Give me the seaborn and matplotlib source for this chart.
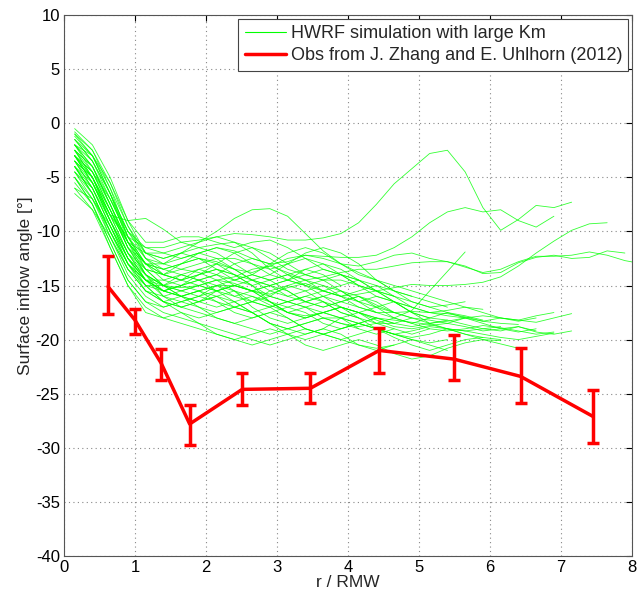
import numpy as np
import pandas as pd
import matplotlib
matplotlib.use("Agg")
import matplotlib.pyplot as plt
import seaborn as sns
from matplotlib.lines import Line2D

# ---------------- data ----------------
# radius grid (r / RMW) shared by the simulated profiles
r_grid = [0.15, 0.40, 0.65, 0.90, 1.15, 1.40, 1.65, 1.90, 2.15, 2.40, 2.65,
          2.90, 3.15, 3.40, 3.65, 3.90, 4.15, 4.40, 4.65, 4.90, 5.15, 5.40,
          5.65, 5.90, 6.15, 6.40, 6.65, 6.90, 7.15, 7.40, 7.65, 7.90, 8.15]

# HWRF simulated surface inflow angle profiles (deg)
sim_curves = [
    [-3.0,-5.0,-8.5,-10.5,-11.5,-11.5,-11.0,-10.8,-10.5,-10.2,-10.3,-10.5,-10.8,-10.8,-10.6,-10.2,-9.2,-7.5,-5.6,-4.2,-2.8,-2.5,-4.5,-7.8,-9.9,-8.9,-7.6,-7.8,-7.3],
    [-2.0,-4.5,-8.0,-11.5,-13.0,-13.5,-13.0,-12.5,-12.8,-13.5,-13.8,-13.2,-12.5,-12.2,-12.3,-12.4,-12.4,-12.2,-11.5,-10.5,-9.2,-8.2,-7.8,-8.2,-8.0,-9.0,-9.6,-8.6],
    [-4.0,-6.5,-10.0,-13.0,-14.5,-15.0,-15.2,-15.0,-14.5,-14.8,-15.5,-15.8,-15.2,-14.8,-15.5,-16.0,-15.8,-15.5,-15.2,-14.9,-15.0,-15.0,-14.9,-14.7,-14.2,-13.2,-12.0,-10.9,-9.9,-9.3,-9.2],
    [-1.5,-3.5,-7.0,-10.0,-11.5,-12.0,-12.5,-12.0,-11.5,-11.8,-12.5,-13.0,-12.8,-12.2,-12.5,-13.0,-13.2,-12.8,-12.2,-12.0,-12.5,-12.8,-13.3,-13.8,-13.5,-12.8,-12.3,-12.3,-12.2,-11.9,-12.2,-12.7,-13.0],
    [-3.5,-5.5,-9.0,-12.0,-13.5,-14.0,-13.5,-13.8,-14.5,-14.2,-13.5,-13.2,-13.8,-14.5,-14.2,-13.8,-13.5,-13.5,-13.2,-12.9,-12.8,-12.8,-13.2,-13.9,-13.8,-12.9,-12.4,-12.2,-12.5,-12.4,-11.8,-12.0],
    [-4.5,-7.0,-10.5,-13.5,-15.5,-16.5,-16.0,-15.5,-16.0,-17.0,-17.5,-17.0,-16.5,-17.0,-18.0,-18.5,-18.8,-18.5,-18.0,-17.3,-15.5,-13.7,-11.9],
    [-2.5,-5.0,-8.5,-11.0,-12.0,-12.0,-11.5,-11.0,-10.0,-8.8,-8.0,-7.9,-8.6,-10.2,-11.8,-13.0,-13.8,-14.5,-15.5,-16.0,-16.5,-17.0],
    [-3.0,-5.5,-8.5,-9.0,-8.8,-9.8,-11.0,-11.5,-11.2,-11.0,-11.5,-12.5,-13.5,-14.0,-14.5,-15.5,-16.5,-17.0,-17.5,-18.0],
    [-3.5,-6.0,-9.5,-12.5,-14.0,-15.0,-15.5,-16.0,-15.5,-15.0,-15.5,-16.5,-17.0,-16.5,-16.0,-16.5,-17.0,-17.5,-17.5,-17.4,-17.5,-17.6,-17.9,-18.3,-18.0,-18.2,-18.4,-18.0,-17.6],
    [-4.0,-6.5,-10.5,-14.0,-16.0,-17.0,-16.5,-16.0,-16.5,-17.5,-18.0,-17.5,-17.0,-17.5,-18.5,-19.0,-18.5,-18.0,-18.5,-18.8,-18.5,-18.2,-18.6,-19.0,-19.2,-18.8,-19.2],
    [-5.0,-7.5,-11.0,-14.5,-16.5,-17.0,-16.5,-17.0,-18.0,-18.5,-18.0,-17.5,-18.0,-19.0,-19.5,-19.0,-18.5,-18.0,-18.2,-18.4,-18.6,-19.0,-19.5,-20.0,-20.4,-20.8],
    [-6.0,-8.0,-11.5,-15.0,-17.5,-18.0,-17.5,-18.5,-19.5,-20.0,-19.5,-19.0,-19.5,-20.5,-21.0,-20.5,-20.0,-20.5,-21.3,-21.8,-21.5,-20.8,-20.3,-20.0,-20.1],
    [-3.0,-5.5,-9.0,-12.5,-14.5,-15.5,-16.0,-16.5,-16.0,-15.5,-16.0,-16.8,-17.5,-17.8,-17.5,-17.0,-17.5,-18.2,-18.8,-19.0,-18.7,-18.5,-18.8,-19.2,-19.0,-18.8,-19.3,-19.5,-19.2],
    [-2.0,-4.0,-7.5,-11.0,-13.0,-13.5,-14.0,-14.5,-14.0,-13.0,-12.5,-13.0,-14.0,-15.0,-15.5,-15.0,-14.5,-15.0,-16.0,-17.0],
    [-1.0,-2.5,-5.5,-9.5,-12.5,-14.0,-14.5,-14.0,-13.5,-14.0,-15.0,-16.0,-16.5,-16.0,-15.5,-16.0,-17.0,-17.5],
    [-4.5,-6.0,-9.5,-13.0,-15.5,-16.5,-17.0,-16.5,-15.5,-15.0,-15.5,-16.5,-17.5,-18.0,-17.5,-17.0,-17.5,-18.5,-19.0,-19.5,-19.0],
    [-2.5,-4.5,-8.0,-11.5,-13.5,-14.0,-13.0,-12.5,-13.0,-14.0,-14.5,-14.0,-13.0,-12.5,-13.0,-14.0,-15.0,-15.5,-16.0,-16.5,-17.0,-17.5,-18.0],
    [-3.0,-5.5,-9.0,-12.0,-14.0,-15.0,-15.5,-15.0,-14.5,-15.5,-17.0,-18.0,-18.5,-18.0,-17.5,-18.0,-19.0,-19.5,-19.0],
    [-5.5,-7.5,-11.0,-14.5,-16.5,-17.5,-18.0,-18.5,-19.0,-19.5,-20.0,-20.5,-20.0,-19.5,-19.0,-19.5,-20.5,-21.0,-20.5,-20.0],
    [-1.5,-3.0,-6.5,-10.0,-12.0,-12.5,-12.0,-11.0,-10.5,-11.0,-12.0,-13.5,-14.5,-15.0,-14.5,-14.0,-14.5,-15.5,-16.5,-17.5,-18.0,-18.2],
    [-3.5,-5.0,-8.5,-12.0,-14.5,-15.5,-15.0,-14.5,-15.0,-16.0,-16.5,-16.0,-15.0,-14.5,-15.0,-16.0,-16.5,-16.0,-16.5,-17.5,-18.5,-19.0,-19.2,-19.0,-18.8],
    [-0.5,-2.0,-5.0,-9.0,-12.0,-13.0,-13.5,-13.0,-12.5,-12.5,-13.0,-13.5,-13.0,-12.0,-11.5,-12.0,-13.0,-14.5,-15.5,-16.0],
    [-4.0,-5.5,-8.5,-12.0,-14.5,-16.0,-16.5,-16.0,-15.0,-14.5,-14.0,-14.5,-15.5,-16.5,-17.0,-16.5,-16.0,-16.5,-17.5],
    [-6.5,-8.0,-10.5,-13.5,-15.5,-16.0,-15.5,-15.0,-15.5,-16.5,-17.5,-18.5,-19.0,-19.5,-19.0,-18.0,-17.5,-18.0],
    [-2.0,-3.5,-6.5,-10.0,-12.5,-13.5,-13.0,-12.0,-11.5,-12.0,-13.0,-14.0,-14.5,-14.0,-13.5,-14.0,-15.0,-16.0,-16.5,-17.0,-17.5,-17.8,-18.0,-18.3,-18.5,-18.6],
    [-3.0,-4.5,-7.5,-11.0,-13.5,-15.0,-16.0,-17.0,-17.5,-17.0,-16.5,-17.0,-18.0,-19.0,-19.5,-20.0,-19.5,-19.0,-19.5,-20.0,-20.3,-20.0],
    [-4.5,-6.5,-10.0,-13.5,-15.0,-15.0,-14.0,-13.5,-14.0,-15.0,-15.5,-15.0,-14.5,-15.0,-16.0,-17.0,-17.5,-17.0,-16.5,-17.0,-17.5,-17.3,-17.0,-17.5,-18.0,-18.2,-17.8,-17.5],
    [-2.5,-4.0,-7.0,-10.5,-13.0,-14.5,-15.0,-14.5,-14.0,-14.5,-15.0,-14.5,-14.0,-14.5,-15.5,-16.0,-15.5,-15.0,-15.5,-16.5,-17.0,-16.8,-16.5],
    [-5.0,-7.0,-10.0,-13.0,-15.0,-16.5,-17.5,-18.0,-17.5,-17.0,-17.5,-18.5,-19.5,-20.0,-19.5,-19.0,-18.5,-19.0,-19.8,-20.5,-21.0,-20.5,-20.0,-19.8,-20.0],
    [-1.0,-3.0,-6.0,-9.5,-12.0,-12.5,-12.0,-12.5,-13.5,-14.5,-14.0,-13.0,-12.0,-11.5,-12.0,-13.0,-14.0,-14.5,-15.0,-15.5,-16.0,-16.5,-17.0,-17.2],
    [-3.5,-6.0,-9.5,-13.0,-15.0,-15.5,-15.0,-15.5,-16.5,-17.0,-16.5,-15.5,-15.0,-15.5,-16.5,-17.5,-18.0,-18.5,-18.5,-18.0,-18.2,-18.5,-18.0,-17.8,-18.0,-18.3,-18.0],
    [-2.0,-4.0,-7.5,-11.5,-14.0,-15.0,-14.5,-13.5,-13.0,-13.5,-14.5,-15.5,-16.0,-15.5,-15.0,-15.5,-16.5,-17.5,-18.0,-18.5,-19.0,-19.2,-19.0,-18.7,-18.9,-19.2,-19.5,-19.3],
    [-4.0,-6.0,-9.0,-12.5,-14.5,-15.5,-16.0,-15.5,-15.0,-15.0,-15.5,-16.0,-16.5,-17.0,-17.5,-18.0,-18.5,-19.0,-19.5,-20.0,-20.5,-21.0],
    [-2.5,-4.0,-7.5,-11.0,-13.0,-13.0,-12.0,-11.5,-12.0,-13.0,-14.0,-14.5,-14.0,-13.5,-14.0,-15.0],
    [-3.0,-5.0,-8.0,-11.5,-14.0,-16.0,-17.0,-17.5,-18.0,-18.5,-19.0,-19.5,-19.0,-18.5,-18.0,-18.5,-19.0],
    [-1.5,-3.5,-6.5,-10.5,-13.0,-14.0,-14.5,-15.0,-15.5,-15.0,-14.5,-15.0,-16.0,-16.5,-16.0,-15.5,-16.0,-17.0,-18.0,-18.5,-18.0,-17.5,-17.8,-18.2],
    [-5.0,-7.5,-11.5,-15.0,-17.0,-18.0,-18.5,-19.0,-19.5,-20.0,-20.5,-20.0,-19.5,-19.0,-19.5,-20.0,-20.5,-20.8,-20.5],
    [-0.8,-2.5,-6.0,-10.5,-13.5,-15.0,-16.0,-16.5,-17.0,-16.5,-16.0,-16.5,-17.5,-18.0,-17.5,-17.0,-17.5,-18.0,-18.5],
    [-2.0,-3.0,-5.5,-9.0,-11.0,-11.0,-10.5,-10.5,-11.0,-11.5,-11.0,-10.8,-11.5,-12.5,-13.5,-14.0,-14.5],
    [-4.0,-6.5,-10.0,-13.0,-14.5,-14.5,-14.0,-14.5,-15.5,-16.0,-15.5,-15.0,-15.5,-16.5,-17.0,-16.5,-16.0,-16.8,-17.5,-18.0,-18.5,-18.3,-18.0,-18.5,-19.0,-19.3,-19.0],
    [-6.0,-7.0,-9.5,-12.5,-14.5,-15.5,-15.0,-14.0,-13.5,-14.0,-15.0,-16.5,-17.5,-17.0,-16.5,-17.0,-18.0,-19.0,-19.5,-19.2,-18.8,-19.0,-19.5,-19.8],
    [-3.0,-4.5,-7.0,-10.5,-12.5,-13.0,-12.5,-12.0,-12.5,-13.5,-14.5,-15.0,-14.5,-13.5,-13.0,-13.5,-14.5,-15.5,-16.0],
    [-2.5,-5.0,-9.0,-12.5,-15.0,-16.5,-17.0,-16.5,-16.0,-16.5,-17.5,-18.5,-19.0,-18.5,-18.0,-18.0,-18.5,-19.0,-19.5,-19.8,-19.5,-19.0,-19.2,-19.5,-19.8,-20.0,-19.7,-19.4],
    [-3.5,-5.0,-8.0,-11.0,-13.0,-14.0,-14.5,-14.0,-13.0,-12.0,-11.5,-12.0,-13.0,-14.0,-14.5,-14.5,-15.0,-15.5,-16.5,-17.5,-18.0],
    [-1.2,-3.0,-6.5,-11.0,-14.0,-15.5,-16.0,-15.5,-15.0,-15.5,-16.5,-17.0,-16.5,-16.0,-16.5,-17.5,-18.0],
]

# Observations (Zhang & Uhlhorn 2012)
obs_r = [0.62, 1.00, 1.37, 1.77, 2.51, 3.47, 4.44, 5.49, 6.43, 7.45]
obs_angle = [-15.1, -18.2, -22.2, -27.8, -24.6, -24.5, -21.0, -21.8, -23.4, -27.1]
obs_upper = [-12.3, -17.2, -20.9, -26.0, -23.1, -23.1, -18.9, -19.6, -20.8, -24.7]
obs_lower = [-17.6, -19.5, -23.7, -29.7, -26.0, -25.9, -23.1, -23.7, -25.9, -29.6]

x_ticks = [0, 1, 2, 3, 4, 5, 6, 7, 8]
y_ticks = [-40, -35, -30, -25, -20, -15, -10, -5, 0, 5, 10]

# ---------------- build frames ----------------
rows = []
for i, ys in enumerate(sim_curves):
    for r, y in zip(r_grid, ys):
        rows.append({"run": i, "r": r, "angle": y})
sim_df = pd.DataFrame(rows)
obs_df = pd.DataFrame({"r": obs_r, "angle": obs_angle})

# ---------------- plot ----------------
sns.set_theme(style="white")
plt.rcParams["font.family"] = ["Liberation Sans", "DejaVu Sans"]
plt.rcParams["axes.unicode_minus"] = False

fig = plt.figure(figsize=(6.43, 6.03), dpi=100)
ax = fig.add_axes([64/643, 1-556/603, (632-64)/643, (556-15)/603])

sns.lineplot(data=sim_df, x="r", y="angle", units="run", estimator=None,
             sort=False, color="#00ff00", lw=0.6, alpha=0.8, ax=ax, legend=False)

sns.lineplot(data=obs_df, x="r", y="angle", color="red", lw=2.5, ax=ax,
             legend=False, sort=False)
yerr = [np.array(obs_angle) - np.array(obs_lower),
        np.array(obs_upper) - np.array(obs_angle)]
ax.errorbar(obs_r, obs_angle, yerr=yerr, fmt="none", ecolor="red",
            elinewidth=2.5, capsize=4.5, capthick=2.5)

ax.set_xlim(0, 8)
ax.set_ylim(-40, 10)
ax.set_xticks(x_ticks)
ax.set_yticks(y_ticks)
ax.tick_params(direction="in", length=4, top=True, right=True,
               labelsize=12, colors="black", width=0.8, pad=3)
ax.grid(True, linestyle=(0, (1, 3)), color="#888888", linewidth=0.8)
for sp in ax.spines.values():
    sp.set_color("#555555")
    sp.set_linewidth(0.8)

ax.set_xlabel("r / RMW", fontsize=12.5, labelpad=0)
ax.set_ylabel("Surface inflow angle [°]", fontsize=12.5, labelpad=2)

handles = [Line2D([0], [0], color="#00ff00", lw=0.8),
           Line2D([0], [0], color="red", lw=2.5)]
leg = ax.legend(handles, ["HWRF simulation with large Km",
                          "Obs from J. Zhang and E. Uhlhorn (2012)"],
                loc="upper right", fontsize=13, frameon=True, fancybox=False,
                edgecolor="#444444", framealpha=1, borderpad=0.35,
                handlelength=2.3, handletextpad=0.25, labelspacing=0.3,
                borderaxespad=0.2)
leg.get_frame().set_linewidth(0.8)

fig.savefig("out.png", dpi=100)
